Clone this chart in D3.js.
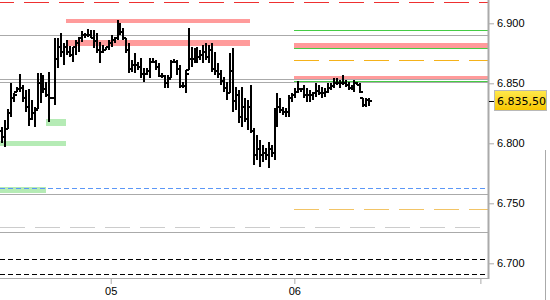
<!DOCTYPE html>
<html>
<head>
<meta charset="utf-8">
<script src="https://cdn.jsdelivr.net/npm/d3@7"></script>
<style>
body { margin: 0; background: #fff; }
svg { display: block; font-family: "DejaVu Sans", Verdana, sans-serif; }
</style>
</head>
<body>
<div id="chart"></div>
<script>
var high = [6813.3, 6819.4, 6828.3, 6850.0, 6842.2, 6847.2, 6857.5, 6848.6, 6844.4, 6845.0,
	6836.1, 6830.0, 6858.3, 6858.3, 6856.9, 6851.3, 6859.4, 6838.8, 6887.5, 6887.5,
	6891.7, 6883.3, 6886.1, 6881.1, 6880.5, 6886.1, 6888.8, 6893.8, 6891.7, 6895.0,
	6894.4, 6894.4, 6891.7, 6884.7, 6881.9, 6880.5, 6886.1, 6890.3, 6888.8, 6902.8,
	6900.0, 6895.8, 6887.5, 6883.3, 6869.4, 6875.0, 6868.0, 6870.8, 6862.5, 6862.5,
	6870.8, 6870.8, 6869.4, 6866.7, 6858.3, 6856.9, 6856.9, 6869.4, 6870.0, 6869.4,
	6865.2, 6851.3, 6861.1, 6895.8, 6880.5, 6879.2, 6880.5, 6877.8, 6881.9, 6883.3,
	6881.9, 6883.3, 6876.3, 6866.7, 6861.1, 6855.5, 6851.3, 6875.0, 6879.2, 6847.2,
	6844.4, 6847.2, 6837.5, 6836.1, 6848.6, 6812.5, 6806.9, 6802.7, 6798.6, 6795.8,
	6801.3, 6798.6, 6829.2, 6841.7, 6837.5, 6830.5, 6829.2, 6840.3, 6841.7, 6845.8,
	6852.2, 6845.8, 6848.6, 6845.8, 6844.4, 6843.0, 6850.0, 6848.6, 6847.2, 6845.8,
	6850.0, 6850.0, 6854.2, 6854.2, 6852.7, 6856.9, 6852.7, 6851.3, 6848.6, 6852.7,
	6851.3, 6850.0, 6837.5, 6837.5, 6837.5];
var low = [6800.0, 6797.2, 6811.7, 6822.2, 6834.7, 6843.0, 6843.0, 6834.7, 6826.3, 6814.4,
	6819.4, 6813.8, 6828.3, 6833.3, 6841.7, 6838.8, 6818.0, 6837.5, 6831.9, 6862.5,
	6872.2, 6865.2, 6873.6, 6872.2, 6868.0, 6873.6, 6876.3, 6884.7, 6887.5, 6888.8,
	6887.5, 6879.2, 6875.0, 6866.7, 6875.0, 6877.8, 6877.8, 6880.5, 6883.3, 6886.1,
	6890.3, 6886.1, 6875.0, 6858.3, 6859.7, 6858.3, 6861.1, 6854.2, 6851.3, 6856.9,
	6854.2, 6866.7, 6861.1, 6855.5, 6854.2, 6845.8, 6845.8, 6854.2, 6866.7, 6856.9,
	6845.8, 6845.8, 6841.7, 6861.1, 6863.8, 6866.7, 6866.7, 6869.4, 6866.7, 6869.4,
	6866.7, 6859.7, 6856.9, 6854.2, 6848.6, 6843.0, 6836.1, 6841.7, 6826.3, 6827.7,
	6816.6, 6813.8, 6818.0, 6811.1, 6808.3, 6781.9, 6786.1, 6780.5, 6784.7, 6786.1,
	6779.1, 6788.8, 6786.1, 6813.8, 6825.0, 6823.6, 6822.2, 6822.2, 6834.7, 6837.5,
	6841.7, 6843.0, 6837.5, 6834.7, 6834.7, 6836.1, 6838.8, 6840.3, 6837.5, 6838.8,
	6841.7, 6844.4, 6845.8, 6848.6, 6845.8, 6848.6, 6847.2, 6844.4, 6844.4, 6843.0,
	6848.6, 6841.7, 6830.5, 6830.5, 6831.3];
var close = [6805, 6812, 6825, 6838, 6840, 6845, 6846, 6838, 6830, 6820,
	6825, 6828, 6850, 6845, 6845, 6840, 6838, 6838, 6870, 6880,
	6876, 6880, 6876, 6874, 6880, 6884, 6888, 6890, 6890, 6890,
	6888, 6885, 6878, 6876, 6878, 6880, 6884, 6886, 6888, 6895,
	6893, 6888, 6878, 6862, 6865, 6865, 6864, 6858, 6858, 6860,
	6868, 6868, 6864, 6856, 6856, 6850, 6854, 6868, 6868, 6862,
	6848, 6848, 6858, 6870, 6870, 6872, 6872, 6874, 6876, 6872,
	6878, 6862, 6860, 6858, 6852, 6846, 6842, 6860, 6835, 6840,
	6822, 6830, 6820, 6830, 6810, 6790, 6795, 6790, 6792, 6790,
	6795, 6792, 6825, 6830, 6828, 6826, 6826, 6838, 6840, 6843,
	6845, 6845, 6840, 6840, 6840, 6842, 6844, 6842, 6842, 6843,
	6846, 6848, 6850, 6850, 6850, 6850, 6849, 6846, 6846, 6850,
	6849, 6843, 6832, 6836, 6835.5];
var firstOpen = 6810;
var lastPrice = 6835.5;

var solidLevels = [6890.2, 6853.3, 6850.8, 6757.7, 6725.8];
var redDashLevels = [6917.5];
var blueDashLevels = [6762.5];
var greyDashLevels = [6730.0];
var blackDashLevels = [6703.6, 6690.8];
var greenLevels = [6894.4, 6879.2, 6852.2];
var orangeLevels = [6869.2, 6745.0];
var levelStart = 98.6;

var sellZones = [
	{from: 21.6, to: 83.7, lo: 6900.5, hi: 6903.6},
	{from: 21.6, to: 83.7, lo: 6881.4, hi: 6886.1},
	{from: 98.6, to: 999, lo: 6879.7, hi: 6883.8},
	{from: 98.6, to: 999, lo: 6852.7, hi: 6856.1}
];
var buyZones = [
	{from: 14.9, to: 21.6, lo: 6814.7, hi: 6820.2},
	{from: -5, to: 21.6, lo: 6798.0, hi: 6801.9},
	{from: -5, to: 14.75, lo: 6758.3, hi: 6763.3}
];

var dayTicks = [36.7, 98.7, 161.5];
var dayLabels = ["05", "06", ""];
var priceTicks = [6700, 6750, 6800, 6850, 6900];

var chartWidth = 550,
	chartHeight = 300,
	plotRight = 488,
	plotBottom = 278,
	x = d3.scaleLinear().domain([0, high.length - 1]).range([2, 369.3]),
	y = d3.scaleLinear().domain([6700, 6900]).range([263.3, 23.3]),
	locale = d3.formatLocale({decimal: ",", thousands: ".", grouping: [3], currency: ["", ""]}),
	fmtTick = locale.format(",.0f"),
	fmtLast = locale.format(",.2f");

function px(i) {
	return Math.max(0, Math.min(plotRight, x(i)));
}

var svg = d3.select("#chart").append("svg")
	.attr("width", chartWidth)
	.attr("height", chartHeight);

var defs = svg.append("defs");
var grad = defs.append("linearGradient").attr("id", "gold")
	.attr("x1", 0).attr("y1", 0).attr("x2", 0).attr("y2", 1);
grad.append("stop").attr("offset", "0%").attr("stop-color", "#ffe94d");
grad.append("stop").attr("offset", "100%").attr("stop-color", "#f7c600");

var levels = svg.append("g").attr("shape-rendering", "crispEdges");

// zones
function zones(data, color) {
	levels.selectAll(null)
		.data(data)
		.enter().append("rect")
		.attr("x", function(d) { return px(d.from); })
		.attr("width", function(d) { return px(d.to) - px(d.from); })
		.attr("y", function(d) { return y(d.hi); })
		.attr("height", function(d) { return y(d.lo) - y(d.hi); })
		.attr("fill", color);
}
zones(sellZones, "#ff9b9b");
zones(buyZones, "#b5ebb5");

// horizontal levels
function hlines(data, color, dash, x0, offset) {
	levels.selectAll(null)
		.data(data)
		.enter().append("line")
		.attr("x1", x0)
		.attr("x2", plotRight)
		.attr("y1", function(d) { return Math.round(y(d)) + 0.5; })
		.attr("y2", function(d) { return Math.round(y(d)) + 0.5; })
		.attr("stroke", typeof color === "function" ? color : function() { return color; })
		.attr("stroke-width", 1)
		.attr("stroke-dasharray", dash)
		.attr("stroke-dashoffset", offset || 0);
}
hlines(redDashLevels, "#ee3030", "25,10", 0, 11);
hlines(solidLevels, "#aaaaaa", null, 0);
hlines(blueDashLevels, "#5b97f7", "5,3", 0);
hlines(greyDashLevels, "#cccccc", "25,10", 0);
hlines(blackDashLevels, "#000000", "5,3", 0);
hlines(greenLevels, "#44cc44", null, px(levelStart));
hlines(orangeLevels, function(d, i) { return i === 0 ? "#f5b21a" : "#f2c466"; }, "25,10", px(levelStart));

// bars
svg.append("g")
	.attr("shape-rendering", "crispEdges")
	.selectAll("path")
	.data(high)
	.enter().append("path")
	.attr("fill", "none")
	.attr("stroke", "#000")
	.attr("stroke-width", 2)
	.attr("d", function(d, i) {
		var cx = Math.round(x(i)),
			o = i === 0 ? firstOpen : close[i - 1];
		o = Math.max(low[i], Math.min(high[i], o));
		return "M" + cx + "," + y(high[i]) + "V" + y(low[i]) +
			"M" + (cx - 3) + "," + y(o) + "H" + cx +
			"M" + cx + "," + y(close[i]) + "H" + (cx + 3);
	});

// axes
svg.append("line")
	.attr("x1", 0).attr("x2", plotRight)
	.attr("y1", plotBottom + 0.5).attr("y2", plotBottom + 0.5)
	.attr("stroke", "#aaaaaa");
svg.append("line")
	.attr("x1", plotRight + 0.5).attr("x2", plotRight + 0.5)
	.attr("y1", 0).attr("y2", plotBottom + 1)
	.attr("stroke", "#aaaaaa")
	.attr("stroke-width", 2);
svg.append("line")
	.attr("x1", 545.5).attr("x2", 545.5)
	.attr("y1", 150).attr("y2", chartHeight)
	.attr("stroke", "#aaaaaa");

var xAxis = svg.append("g")
	.attr("transform", "translate(0," + (plotBottom + 1) + ")")
	.call(d3.axisBottom(x)
		.tickValues(dayTicks)
		.tickFormat(function(d, i) { return dayLabels[i]; })
		.tickSize(5)
		.tickPadding(3));
xAxis.select(".domain").remove();
xAxis.selectAll("line").attr("stroke", "#aaaaaa");
xAxis.selectAll("text").attr("fill", "#000").style("font-size", "11px");

var yAxis = svg.append("g")
	.attr("transform", "translate(" + (plotRight + 1) + ",0)")
	.call(d3.axisRight(y)
		.tickValues(priceTicks)
		.tickFormat(fmtTick)
		.tickSize(5)
		.tickPadding(3));
yAxis.select(".domain").remove();
yAxis.selectAll("line").attr("stroke", "#aaaaaa");
yAxis.selectAll("text").attr("fill", "#000").style("font-size", "11px");

// last price label
var ly = y(lastPrice);
svg.append("line")
	.attr("x1", plotRight + 1).attr("x2", 494)
	.attr("y1", Math.round(ly) + 0.5).attr("y2", Math.round(ly) + 0.5)
	.attr("stroke", "#000");
svg.append("rect")
	.attr("x", 494.5).attr("y", Math.round(ly) - 10.5)
	.attr("width", 52).attr("height", 20)
	.attr("fill", "url(#gold)")
	.attr("stroke", "#b8b8b8");
svg.append("text")
	.attr("x", 497).attr("y", ly)
	.attr("dy", "0.35em")
	.style("font-size", "11px")
	.attr("fill", "#000")
	.text(fmtLast(lastPrice));
</script>
</body>
</html>
